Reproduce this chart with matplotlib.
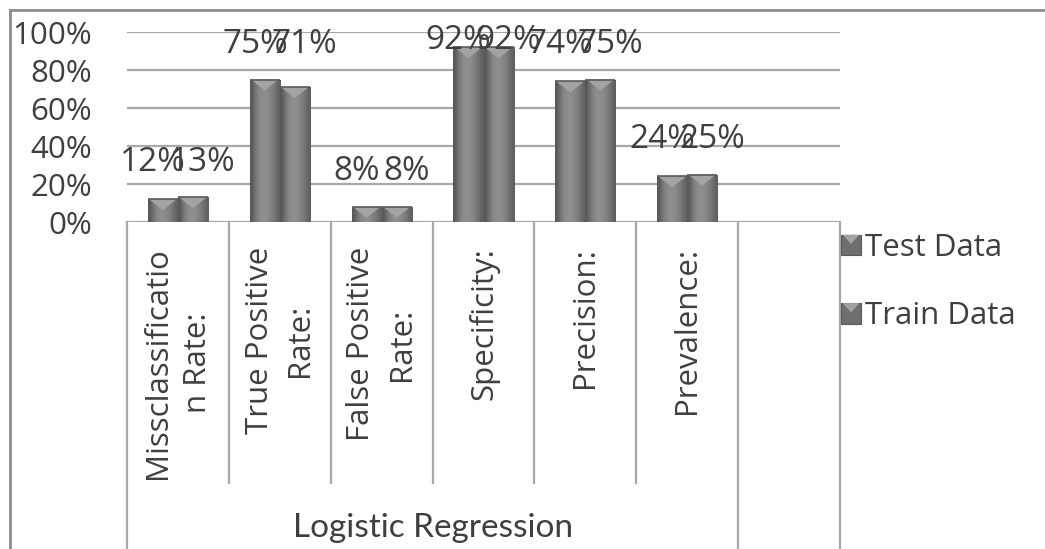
import numpy as np
import matplotlib
matplotlib.use("Agg")
import matplotlib.pyplot as plt
from matplotlib.patches import Polygon, Rectangle
from matplotlib.legend_handler import HandlerBase
from matplotlib.lines import Line2D
import matplotlib.transforms as mtransforms

# ---- data ----
categories = ["Missclassificatio\nn Rate:", "True Positive\nRate:", "False Positive\nRate:",
              "Specificity:", "Precision:", "Prevalence:"]
group_label = "Logistic Regression"
series_names = ["Test Data", "Train Data"]
test_values = [0.12, 0.75, 0.08, 0.92, 0.74, 0.24]
train_values = [0.13, 0.71, 0.08, 0.92, 0.75, 0.25]
y_ticks = [0.0, 0.2, 0.4, 0.6, 0.8, 1.0]
y_tick_labels = ["0%", "20%", "40%", "60%", "80%", "100%"]

plt.rcParams["font.family"] = ["Open Sans", "DejaVu Sans"]
TEXT = "#3f3f3f"
GRID = "#a8a8a8"

W, H = 1045, 549
fig = plt.figure(figsize=(W / 100, H / 100), dpi=100)
fig.patch.set_facecolor("white")

# outer chart frame
fig.add_artist(Line2D([10 / W, 10 / W], [0, 1 - 10 / H], transform=fig.transFigure,
                      color="#8c8c8c", lw=2))
fig.add_artist(Line2D([10 / W, 1], [1 - 10 / H, 1 - 10 / H], transform=fig.transFigure,
                      color="#8c8c8c", lw=2))

ax_left, ax_right = 127 / W, 840 / W
ax_bottom, ax_top = (H - 222) / H, (H - 32) / H
ax = fig.add_axes([ax_left, ax_bottom, ax_right - ax_left, ax_top - ax_bottom])

n_slots = len(categories) + 1
ax.set_xlim(-0.5, n_slots - 0.5)
ax.set_ylim(0, 1)
for s in ax.spines.values():
    s.set_visible(False)
ax.set_yticks(y_ticks)
ax.set_yticklabels(y_tick_labels, fontsize=22.5, color=TEXT)
ax.tick_params(axis="y", length=0, pad=25)
ax.set_xticks([])
ax.yaxis.grid(True, color=GRID, lw=1.6)
ax.set_axisbelow(True)

x = np.arange(len(categories))
bw = 0.295
bars_test = ax.bar(x - bw / 2, test_values, width=bw, color="#737373", lw=0, zorder=3)
bars_train = ax.bar(x + bw / 2, train_values, width=bw, color="#707070", lw=0, zorder=3)

# cylinder-like shading across each bar
shade = np.array([0.34, 0.43, 0.51, 0.55, 0.56, 0.55, 0.52, 0.48, 0.43, 0.37])
grad = np.tile(shade, (2, 1))
axis_px_h = (ax_top - ax_bottom) * H
tri_h = 11 / axis_px_h  # chevron height in data units
for bars in (bars_test, bars_train):
    for b in bars:
        x0, w, h = b.get_x(), b.get_width(), b.get_height()
        im = ax.imshow(grad, cmap="gray", vmin=0, vmax=1, aspect="auto",
                       extent=(x0, x0 + w, 0, h), zorder=3.5, interpolation="bicubic")
        im.set_clip_path(b)
        # lighter chevron on the bar top
        tri = Polygon([(x0 + 0.04 * w, h), (x0 + 0.96 * w, h), (x0 + w / 2, h - tri_h)],
                      closed=True, facecolor="#a3a3a3", edgecolor="none", zorder=4)
        ax.add_patch(tri)
        ax.plot([x0, x0 + w], [h, h], color="#5a5a5a", lw=1.2, zorder=4.5,
                solid_capstyle="butt")

# value labels above each pair
px_to_data = 1 / axis_px_h
label_shift = 0.245
for i in range(len(categories)):
    top = max(test_values[i], train_values[i])
    y_lab = min(top + 35 * px_to_data, 0.955)
    for val, dx in ((test_values[i], -label_shift), (train_values[i], label_shift)):
        ax.text(x[i] + dx, y_lab, f"{val:.0%}", ha="center", va="center", fontsize=24,
                color=TEXT, zorder=6, clip_on=False)

# category axis: separators and rotated labels
trans = mtransforms.blended_transform_factory(ax.transData, ax.transAxes)
sep_short = -(483 - 222) / axis_px_h
sep_long = -(H - 222) / axis_px_h
for k in range(n_slots + 1):
    xb = -0.5 + k
    y_end = sep_long if k in (0, len(categories), n_slots) else sep_short
    ax.plot([xb, xb], [0, y_end], transform=trans, color=GRID, lw=1.6, clip_on=False)
for i, lab in enumerate(categories):
    ax.text(x[i], -(247 - 222) / axis_px_h, lab, transform=trans, rotation=90,
            ha="center", va="top", multialignment="center", fontsize=22.5,
            color=TEXT, linespacing=1.45)
ax.text((len(categories) - 1) / 2, -(528 - 222) / axis_px_h, group_label, transform=trans,
        ha="center", va="center", fontsize=24, color=TEXT, family=["Lato", "DejaVu Sans"])


# legend key: square with a chevron on top
class BarKeyHandler(HandlerBase):
    def create_artists(self, legend, orig_handle, xdescent, ydescent, width, height,
                       fontsize, trans):
        s = height * 0.95
        x0 = xdescent + width - s
        y0 = ydescent + (height - s) / 2
        sq = Rectangle((x0, y0), s, s, facecolor="#6e6e6e", edgecolor="#5a5a5a",
                       lw=0.8, transform=trans)
        tri = Polygon([(x0 + 0.1 * s, y0 + s), (x0 + 0.9 * s, y0 + s),
                       (x0 + 0.5 * s, y0 + 0.55 * s)], closed=True,
                      facecolor="#a3a3a3", edgecolor="none", transform=trans)
        return [sq, tri]


handles = [Rectangle((0, 0), 1, 1) for _ in series_names]
leg = fig.legend(handles, series_names, handler_map={Rectangle: BarKeyHandler()},
                 loc="upper left", bbox_to_anchor=(838 / W, 1 - 233 / H),
                 frameon=False, fontsize=22.5, labelcolor=TEXT, handlelength=0.75,
                 handletextpad=0.12, labelspacing=1.23, borderpad=0, borderaxespad=0)

fig.savefig("out.png", dpi=100, facecolor="white")
